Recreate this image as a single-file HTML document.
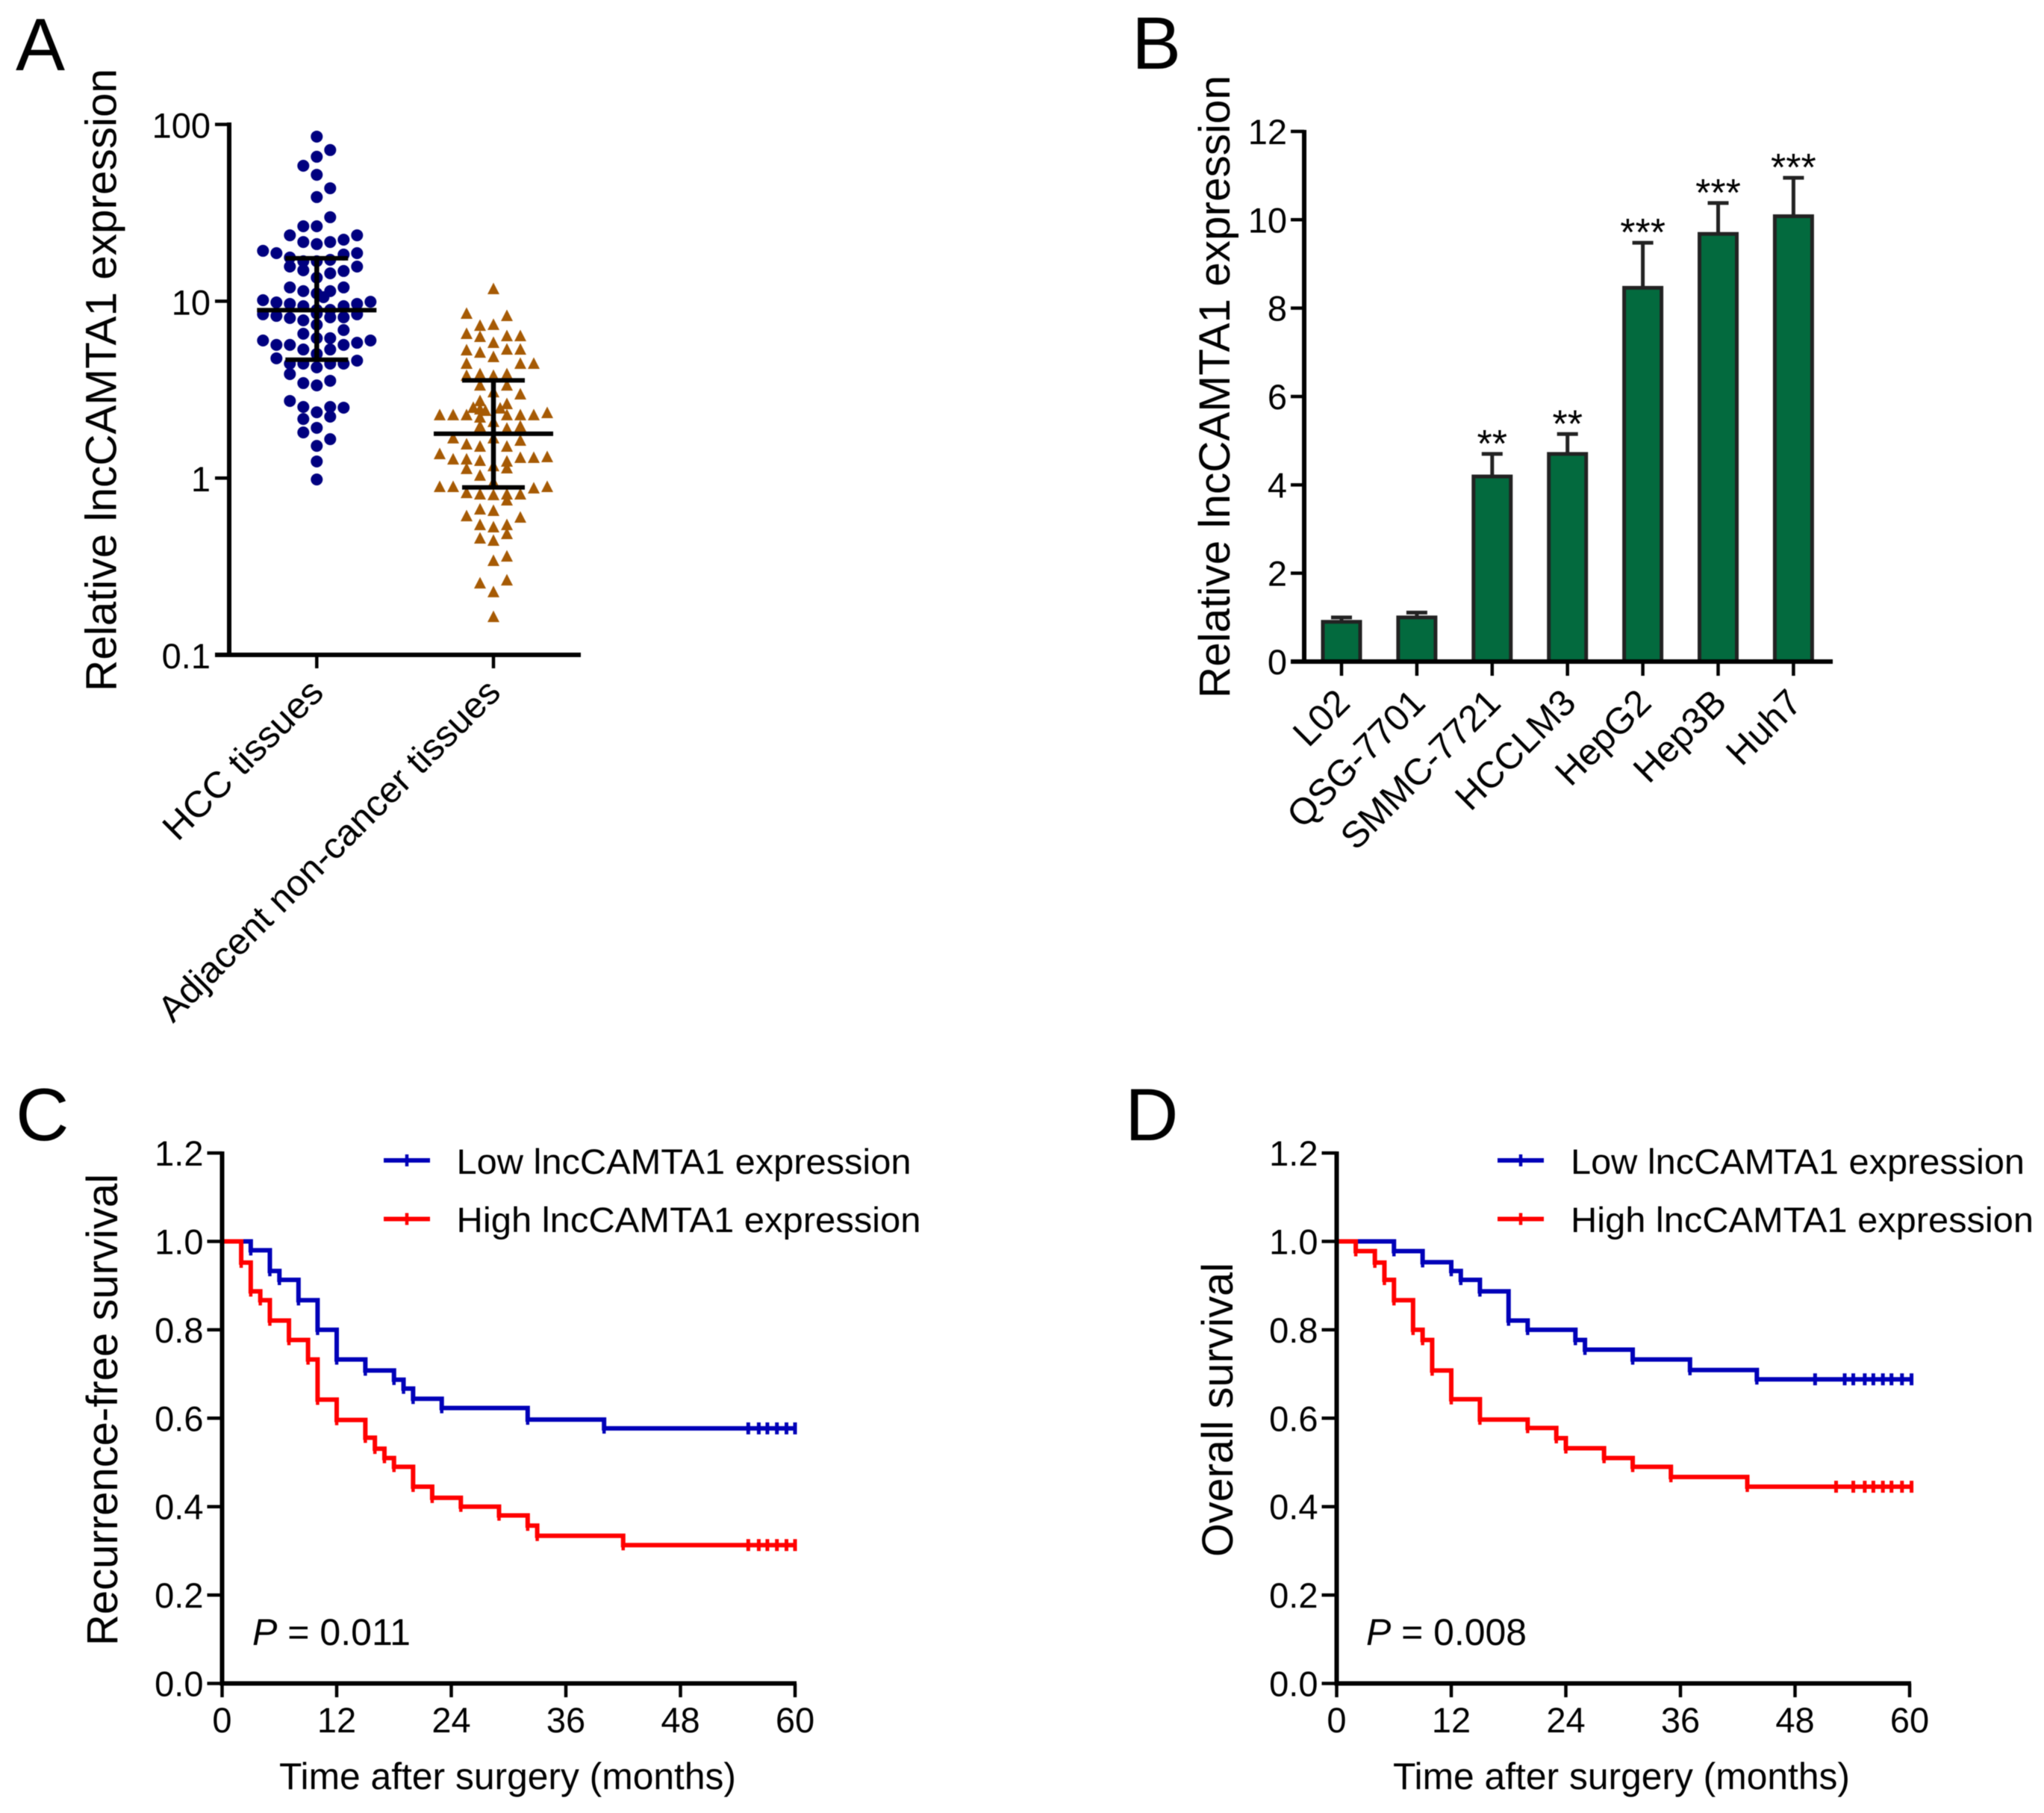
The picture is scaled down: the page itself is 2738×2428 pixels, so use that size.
<!DOCTYPE html>
<html lang="en">
<head>
<meta charset="utf-8">
<title>lncCAMTA1 expression figure</title>
<style>
html,body{margin:0;padding:0;background:#fff;}
svg{display:block;}
text{font-family:"Liberation Sans",Arial,sans-serif;fill:#000;}
#figure{filter:blur(0.6px);}
</style>
</head>
<body>
<svg id="figure" xmlns="http://www.w3.org/2000/svg" width="2738" height="2428" viewBox="0 0 2738 2428">
<rect x="0" y="0" width="2738" height="2428" fill="#fff"/>

<text x="21" y="94" font-size="99">A</text>
<text x="1516" y="92" font-size="99">B</text>
<text x="21" y="1527" font-size="99">C</text>
<text x="1507" y="1527" font-size="99">D</text>

<text transform="translate(155.5,926) rotate(-90)" font-size="58" textLength="834" lengthAdjust="spacingAndGlyphs">Relative lncCAMTA1 expression</text>
<text transform="translate(436,930) rotate(-45)" font-size="49" text-anchor="end" textLength="280" lengthAdjust="spacingAndGlyphs">HCC tissues</text>
<text transform="translate(673,930) rotate(-45)" font-size="49" text-anchor="end" textLength="624" lengthAdjust="spacingAndGlyphs">Adjacent non-cancer tissues</text>

<text transform="translate(1647,935) rotate(-90)" font-size="58" textLength="834" lengthAdjust="spacingAndGlyphs">Relative lncCAMTA1 expression</text>

<text transform="translate(157,2204) rotate(-90)" font-size="58" textLength="632" lengthAdjust="spacingAndGlyphs">Recurrence-free survival</text>
<text x="374" y="2396" font-size="50" textLength="612" lengthAdjust="spacingAndGlyphs">Time after surgery (months)</text>
<text x="338" y="2203" font-size="50" textLength="212" lengthAdjust="spacingAndGlyphs"><tspan font-style="italic">P</tspan> = 0.011</text>
<text x="611.5" y="1572" font-size="47" textLength="609" lengthAdjust="spacingAndGlyphs">Low lncCAMTA1 expression</text>
<text x="611.5" y="1650" font-size="47" textLength="622" lengthAdjust="spacingAndGlyphs">High lncCAMTA1 expression</text>

<text transform="translate(1651,2085) rotate(-90)" font-size="58" textLength="394" lengthAdjust="spacingAndGlyphs">Overall survival</text>
<text x="1866" y="2396" font-size="50" textLength="612" lengthAdjust="spacingAndGlyphs">Time after surgery (months)</text>
<text x="1830" y="2203" font-size="50" textLength="215" lengthAdjust="spacingAndGlyphs"><tspan font-style="italic">P</tspan> = 0.008</text>
<text x="2104" y="1572" font-size="47" textLength="608" lengthAdjust="spacingAndGlyphs">Low lncCAMTA1 expression</text>
<text x="2104" y="1650" font-size="47" textLength="620" lengthAdjust="spacingAndGlyphs">High lncCAMTA1 expression</text>

<g id="chart-layer"></g>
</svg>

<script>
/* ---------- Panel A data: log10 relative expression and swarm column index ---------- */
const aTickLabels = ['100', '10', '1', '0.1'];
const aTickLog10 = [2, 1, 0, -1];
const hccLog10 = [1.931,1.855,1.817,1.766,1.715,1.639,1.589,1.475,1.424,1.424,1.373,1.373,1.335,1.323,1.335,1.348,1.285,1.272,1.272,1.264,1.247,1.234,1.226,1.226,1.196,1.196,1.175,1.171,1.158,1.133,1.078,1.078,1.057,1.057,1.044,1.023,1.006,0.993,0.985,0.972,0.985,0.997,0.972,0.951,0.951,0.926,0.917,0.905,0.892,0.909,0.909,0.926,0.930,0.867,0.837,0.816,0.791,0.791,0.778,0.778,0.753,0.753,0.753,0.765,0.727,0.727,0.702,0.677,0.664,0.647,0.647,0.647,0.647,0.626,0.588,0.537,0.550,0.524,0.436,0.402,0.402,0.398,0.372,0.334,0.347,0.284,0.258,0.220,0.182,0.094,-0.008];
const hccColumn = [0,1,0,-1,0,1,0,1,-1,0,-2,3,-1,0,1,2,-4,-3,3,2,-2,1,-1,0,-2,3,-1,2,1,0,-2,2,-1,1,0,0.5,-4,-3,-2,-1,3,4,2,1,0,-4,-3,-2,-1,1,2,3,0,0,2,-1,1,0,-4,4,-3,-2,2,3,-1,1,0,-3,3,-2,-1,1,2,0,-2,-1,1,0,-2,-1,1,2,0,-1,1,0,-1,1,0,0,0];
const adjacentLog10 = [1.069,0.930,0.917,0.862,0.867,0.816,0.799,0.803,0.803,0.765,0.723,0.710,0.727,0.727,0.685,0.647,0.647,0.647,0.579,0.588,0.579,0.588,0.524,0.524,0.486,0.474,0.436,0.419,0.398,0.394,0.356,0.356,0.356,0.356,0.356,0.356,0.368,0.343,0.318,0.280,0.292,0.292,0.225,0.225,0.212,0.191,0.178,0.178,0.136,0.106,0.106,0.098,0.115,0.115,0.119,0.094,0.068,0.056,0.052,0.014,-0.050,-0.050,-0.024,-0.084,-0.058,-0.050,-0.092,-0.096,-0.092,-0.126,-0.092,-0.177,-0.185,-0.215,-0.223,-0.265,-0.278,-0.265,-0.316,-0.341,-0.354,-0.443,-0.468,-0.595,-0.578,-0.645,-0.785,0.389,0.381];
const adjacentColumn = [0,-2,1,-1,0,-2,-1,1,2,0,-2,-1,1,2,0,-2,2,3,-2,-1,0,1,-1,1,0,2,-1,1,-1.5,0.5,-4,-3,-2,1,2,3,4,-1,0,1,2,-1,-3,0,2,-2,-1,1,-4,-3,-2,-1,2,3,4,1,0,1,-2,-1,-4,-3,0,-2,3,4,-1,0,1,1,2,-1,0,-2,2,-1,0,1,1,-1,0,1,0,-1,1,0,0,-1,-0.6];
const aGroupSummaryMean = [8.9, 1.78];
const aGroupSummaryUpper = [17.5, 3.57];
const aGroupSummaryLower = [4.67, 0.885];

/* ---------- Panel B data ---------- */
const bCellLines = ['L02', 'QSG-7701', 'SMMC-7721', 'HCCLM3', 'HepG2', 'Hep3B', 'Huh7'];
const bMeans = [0.90, 1.00, 4.19, 4.70, 8.46, 9.68, 10.08];
const bErrors = [0.10, 0.11, 0.51, 0.45, 1.02, 0.70, 0.87];
const bStars = ['', '', '**', '**', '***', '***', '***'];
const bTickValues = [0, 2, 4, 6, 8, 10, 12];

/* ---------- Panels C and D data ---------- */
const kmYTickValues = [0, 0.2, 0.4, 0.6, 0.8, 1.0, 1.2];
const kmYTickLabels = ['0.0', '0.2', '0.4', '0.6', '0.8', '1.0', '1.2'];
const kmXTickValues = [0, 12, 24, 36, 48, 60];

const cLowTimes = [3,5,6,8,10,12,15,18,19,20,23,32,40];
const cLowSurvival = [0.98,0.933,0.913,0.867,0.80,0.733,0.708,0.687,0.667,0.644,0.623,0.597,0.577];
const cLowCensored = [55.1,56.2,57.1,58.1,59.1,60];
const cHighTimes = [2,3,4,5,7,9,10,12,15,16,17,18,20,22,25,29,32,33,42];
const cHighSurvival = [0.952,0.887,0.867,0.821,0.777,0.733,0.642,0.596,0.556,0.531,0.51,0.49,0.445,0.42,0.40,0.38,0.357,0.334,0.313];
const cHighCensored = [55.1,56.2,57.1,58.1,59.1,60];

const dLowTimes = [6,9,12,13,15,18,20,25,26,31,37,44];
const dLowSurvival = [0.978,0.953,0.933,0.913,0.887,0.821,0.80,0.777,0.755,0.733,0.709,0.688];
const dLowCensored = [50.1,53.2,54.1,55.3,56.2,57.2,58.1,59.2,60.2];
const dHighTimes = [2,4,5,6,8,9,10,12,15,20,23,24,28,31,35,43];
const dHighSurvival = [0.978,0.952,0.913,0.867,0.80,0.777,0.708,0.643,0.597,0.578,0.555,0.532,0.51,0.49,0.467,0.445];
const dHighCensored = [52.3,54.1,55.3,56.2,57.2,58.1,59.2,60.2];

/* ---------- Helpers ---------- */
const NS = 'http://www.w3.org/2000/svg';
const layer = document.getElementById('chart-layer');
function mk(tag, attrs, text) {
  const n = document.createElementNS(NS, tag);
  for (const k in attrs) n.setAttribute(k, attrs[k]);
  if (text !== undefined) n.textContent = text;
  layer.appendChild(n);
  return n;
}
function seg(x1, y1, x2, y2, w, c) {
  return mk('line', {x1: x1, y1: y1, x2: x2, y2: y2, stroke: c || '#000', 'stroke-width': w});
}

/* ---------- Panel A ---------- */
const aY = v => 640.2 - v * 236.8;
const aCenters = [424.3, 661];
const aColStep = 18;
const aX = (g, col) => aCenters[g] + col * aColStep;

hccLog10.forEach(function (v, i) {
  const c = mk('circle', {cx: aX(0, hccColumn[i]), cy: aY(v), r: 8, fill: '#000080'});
  
  
});
adjacentLog10.forEach(function (v, i) {
  const x = aX(1, adjacentColumn[i]), y = aY(v);
  const t = mk('path', {d: 'M' + x + ' ' + (y - 8.5) + 'L' + (x + 8) + ' ' + (y + 7) + 'L' + (x - 8) + ' ' + (y + 7) + 'Z', fill: '#a65a04'});
  
  
});
aGroupSummaryMean.forEach(function (m, g) {
  const cx = aCenters[g];
  const stem = seg(cx, aY(Math.log10(aGroupSummaryUpper[g])), cx, aY(Math.log10(aGroupSummaryLower[g])), 6.5);
  
  
  const meanLine = seg(cx - 80, aY(Math.log10(m)), cx + 80, aY(Math.log10(m)), 6);
  
  
  const up = seg(cx - 42, aY(Math.log10(aGroupSummaryUpper[g])), cx + 42, aY(Math.log10(aGroupSummaryUpper[g])), 6);
  
  
  const lo = seg(cx - 42, aY(Math.log10(aGroupSummaryLower[g])), cx + 42, aY(Math.log10(aGroupSummaryLower[g])), 6);
  
  
  const tk = seg(cx, 877, cx, 895, 4.5);
  
  
});
const aYAxis = seg(307, 164, 307, 880, 6);


const aXAxis = seg(288, 877, 778, 877, 6);


aTickLabels.forEach(function (lab, i) {
  const y = aY(aTickLog10[i]);
  const tk = seg(288, y, 307, y, 4.5);
  
  
  const t = mk('text', {x: 282, y: y + 18, 'font-size': 47, 'text-anchor': 'end'}, lab);
  
  
});

/* ---------- Panel B ---------- */
const bY = v => 886 - v * 59.17;
const bX = i => 1797 + i * 100.9;
bCellLines.forEach(function (name, i) {
  const x = bX(i), top = bY(bMeans[i]), errTop = bY(bMeans[i] + bErrors[i]);
  const stem = seg(x, top, x, errTop, 5, '#222');
  
  
  const cap = seg(x - 14, errTop, x + 14, errTop, 5, '#222');
  
  
  const bar = mk('rect', {x: x - 25, y: top, width: 50, height: 886 - top, fill: '#036a3e', stroke: '#222', 'stroke-width': 5});
  
  
  const tk = seg(x, 886, x, 905, 4.5);
  
  
  const lab = mk('text', {transform: 'translate(' + (x + 14) + ',944) rotate(-45)', 'font-size': 49.5, 'text-anchor': 'end'}, name);
  
  
  if (bStars[i]) {
    const s = mk('text', {x: x, y: errTop + 4, 'font-size': 52, 'text-anchor': 'middle'}, bStars[i]);
    
    
  }
});
const bYAxis = seg(1747, 174, 1747, 889, 6);


const bXAxis = seg(1729, 886, 2455, 886, 6);


bTickValues.forEach(function (v) {
  const y = bY(v);
  const tk = seg(1729, y, 1747, y, 4.5);
  
  
  const t = mk('text', {x: 1724, y: y + 17, 'font-size': 47, 'text-anchor': 'end'}, String(v));
  
  
});

/* ---------- Panels C and D ---------- */
const kmY = s => 2254.5 - s * 592;
function drawAxes(x0, x60, prefix) {
  const kmX = t => x0 + t * (x60 - x0) / 60;
  const yAxis = seg(x0, 1542, x0, 2257.5, 6);
  
  
  const xAxis = seg(x0 - 3, 2254.5, x60 + 2, 2254.5, 6);
  
  
  kmYTickValues.forEach(function (v, i) {
    const tk = seg(x0 - 20, kmY(v), x0, kmY(v), 4.5);
    
    
    const t = mk('text', {x: x0 - 25, y: kmY(v) + 17, 'font-size': 47, 'text-anchor': 'end'}, kmYTickLabels[i]);
    
    
  });
  kmXTickValues.forEach(function (v) {
    const tk = seg(kmX(v), 2254.5, kmX(v), 2273, 4.5);
    
    
    const t = mk('text', {x: kmX(v), y: 2320, 'font-size': 47, 'text-anchor': 'middle'}, String(v));
    
    
  });
}
function drawCurve(x0, x60, times, surv, censored, color, prefix, series) {
  const kmX = t => x0 + t * (x60 - x0) / 60;
  let d = 'M' + kmX(0) + ' ' + kmY(1);
  times.forEach(function (t, i) {
    d += 'H' + kmX(t) + 'V' + kmY(surv[i]);
    const drop = seg(kmX(t), kmY(surv[i]), kmX(t), kmY(surv[i]) + 7, 4.5, color);
    
    
  });
  d += 'H' + Math.max(kmX(60), kmX(censored[censored.length - 1]));
  const p = mk('path', {d: d, fill: 'none', stroke: color, 'stroke-width': 6});
  
  
  const lastS = surv[surv.length - 1];
  censored.forEach(function (t) {
    const c = seg(kmX(t), kmY(lastS) - 8, kmX(t), kmY(lastS) + 8, 5, color);
    
    
  });
}
function drawLegendKey(x1, x2, y, color, prefix, series) {
  const l = seg(x1, y, x2, y, 6, color);
  
  
  const xm = (x1 + x2) / 2;
  const m = seg(xm, y - 8, xm, y + 8, 4.5, color);
  
  
}
const BLUE = '#0000b8', RED = '#ff0000';
drawCurve(297.5, 1065, cLowTimes, cLowSurvival, cLowCensored, BLUE, 'panel-c', 'low');
drawCurve(297.5, 1065, cHighTimes, cHighSurvival, cHighCensored, RED, 'panel-c', 'high');
drawAxes(297.5, 1065, 'panel-c');
drawLegendKey(514, 576, 1554, BLUE, 'panel-c', 'low');
drawLegendKey(514, 576, 1632.5, RED, 'panel-c', 'high');
drawCurve(1790.5, 2558, dLowTimes, dLowSurvival, dLowCensored, BLUE, 'panel-d', 'low');
drawCurve(1790.5, 2558, dHighTimes, dHighSurvival, dHighCensored, RED, 'panel-d', 'high');
drawAxes(1790.5, 2558, 'panel-d');
drawLegendKey(2006, 2068, 1554, BLUE, 'panel-d', 'low');
drawLegendKey(2006, 2068, 1632.5, RED, 'panel-d', 'high');
</script>
</body>
</html>
